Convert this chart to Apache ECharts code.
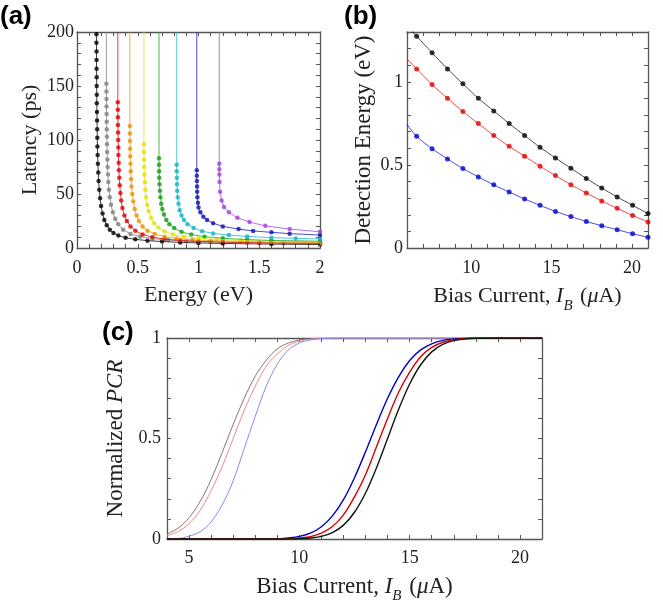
<!DOCTYPE html>
<html>
<head>
<meta charset="utf-8">
<script src="https://cdn.jsdelivr.net/npm/echarts@6/dist/echarts.min.js"></script>
<style>
html, body { margin: 0; padding: 0; background: #fff; }
#main { width: 663px; height: 610px; }
</style>
</head>
<body>
<div id="main"></div>
<script>
// ---------- (a) latency vs energy ----------
var aColors = ['#000000', '#808080', '#e00000', '#e89400', '#e2e200', '#12a012', '#10b4c8', '#1010b4', '#a040e0'];
var aAsym = [0.160, 0.242, 0.336, 0.435, 0.551, 0.675, 0.821, 0.986, 1.171];
var aBlack = [[0.160,198],[0.160,190],[0.161,182],[0.161,174],[0.161,166],[0.162,158],[0.162,150],[0.163,142],[0.163,134],[0.164,126],[0.165,118],[0.166,110],[0.167,102],[0.168,94],[0.170,86],[0.172,78],[0.175,70],[0.178,62],[0.183,54],[0.190,46],[0.198,39],[0.210,32],[0.225,26],[0.245,21],[0.27,17],[0.30,14],[0.34,11.5],[0.40,9.5],[0.48,8],[0.58,6.8],[0.70,6],[0.85,5.2],[1.0,4.7],[1.2,4.2],[1.6,3.6],[2.0,3.2]];
var aGray = [[0.242,152],[0.242,145],[0.243,138],[0.243,131],[0.244,124],[0.244,117],[0.245,110],[0.246,103],[0.247,96],[0.248,89],[0.250,82],[0.252,75],[0.255,68],[0.258,61],[0.263,54],[0.270,47],[0.28,40],[0.295,33],[0.315,27],[0.34,22],[0.38,17],[0.44,13],[0.52,10.5],[0.62,8.7],[0.75,7.3],[0.9,6.3],[1.1,5.5],[1.4,4.8],[1.7,4.3],[2.0,4.0]];
var aRed = [[0.336,135],[0.336,128],[0.337,121],[0.337,114],[0.338,107],[0.339,100],[0.340,93],[0.341,86],[0.343,79],[0.345,72],[0.348,65],[0.352,58],[0.357,51],[0.364,44],[0.374,37],[0.39,30],[0.41,25],[0.44,20],[0.48,16],[0.54,12.5],[0.62,10],[0.72,8.3],[0.85,7],[1.0,6.2],[1.2,5.5],[1.5,4.9],[2.0,4.4]];
var aOrange = [[0.435,113],[0.435,106],[0.436,99],[0.437,92],[0.438,85],[0.440,78],[0.442,71],[0.445,64],[0.449,57],[0.455,50],[0.463,43],[0.475,36],[0.49,30],[0.51,25],[0.54,20],[0.58,16],[0.64,13],[0.72,10.5],[0.82,8.8],[0.95,7.6],[1.1,6.8],[1.35,6],[1.6,5.5],[2.0,5.0]];
var aYellow = [[0.551,96],[0.551,89],[0.552,82],[0.553,75],[0.555,68],[0.558,61],[0.562,54],[0.568,47],[0.577,40],[0.59,34],[0.61,28],[0.635,23],[0.67,19],[0.72,15.5],[0.79,12.5],[0.88,10.5],[1.0,9],[1.15,7.8],[1.35,7],[1.6,6.3],[2.0,5.7]];
var aGreen = [[0.675,83],[0.675,77],[0.676,71],[0.677,65],[0.679,59],[0.682,53],[0.687,47],[0.693,41],[0.702,36],[0.715,31],[0.735,26],[0.76,22],[0.8,18.5],[0.86,15],[0.94,12.5],[1.05,10.5],[1.2,9],[1.4,7.8],[1.6,7],[2.0,6.3]];
var aCyan = [[0.821,77],[0.821,71],[0.822,65],[0.823,59],[0.825,53],[0.829,47],[0.835,41],[0.845,35],[0.86,30],[0.88,26],[0.91,22],[0.96,18.5],[1.03,15.5],[1.12,13.5],[1.25,12],[1.4,10.7],[1.6,9.6],[1.8,8.9],[2.0,8.4]];
var aBlue = [[0.986,72],[0.986,67],[0.987,62],[0.988,57],[0.989,52],[0.991,47],[0.995,42],[1.0,37.5],[1.015,33],[1.04,29],[1.07,26],[1.12,23],[1.2,20],[1.33,17.5],[1.45,15.8],[1.6,14.5],[1.75,13.3],[2.0,12]];
var aPurple = [[1.171,78],[1.171,73],[1.172,68],[1.173,61],[1.178,52],[1.19,44],[1.21,38],[1.25,33],[1.32,28],[1.42,24],[1.55,20.5],[1.75,17.5],[2.0,15]];
var aCurves = [aBlack, aGray, aRed, aOrange, aYellow, aGreen, aCyan, aBlue, aPurple];
var aXLabels = [0, 0.5, 1, 1.5, 2];
var aXTicks = [0,0.1,0.2,0.3,0.4,0.5,0.6,0.7,0.8,0.9,1,1.1,1.2,1.3,1.4,1.5,1.6,1.7,1.8,1.9,2];
var aYLabels = [0, 50, 100, 150, 200];
var aYTicks = [0,10,20,30,40,50,60,70,80,90,100,110,120,130,140,150,160,170,180,190,200];

// ---------- (b) detection energy vs bias current ----------
var bX = [6.6, 7.56, 8.52, 9.48, 10.44, 11.4, 12.36, 13.32, 14.28, 15.24, 16.2, 17.16, 18.12, 19.08, 20.04, 21.0];
var bBlack = [1.275, 1.175, 1.078, 0.988, 0.901, 0.825, 0.749, 0.677, 0.606, 0.542, 0.480, 0.419, 0.361, 0.307, 0.257, 0.207];
var bRed = [1.078, 0.984, 0.901, 0.821, 0.749, 0.677, 0.612, 0.552, 0.492, 0.436, 0.381, 0.331, 0.283, 0.239, 0.196, 0.157];
var bBlue = [0.672, 0.598, 0.536, 0.478, 0.428, 0.380, 0.337, 0.295, 0.257, 0.220, 0.189, 0.160, 0.134, 0.110, 0.086, 0.064];
var bEdge = [1.34, 1.138, 0.743];   // fit curves at the left edge (6 uA)
var bColors = ['#000000', '#e00000', '#0000d0'];
var bXLabels = [10, 15, 20];
var bXTicks = [6,7,8,9,10,11,12,13,14,15,16,17,18,19,20,21];
var bYLabels = [0, 0.5, 1];
var bYTicks = [0,0.1,0.2,0.3,0.4,0.5,0.6,0.7,0.8,0.9,1,1.1,1.2,1.3];

// ---------- (c) normalized PCR vs bias current ----------
var cLx = [4, 4.5, 5, 5.5, 6, 6.5, 7, 7.5, 8, 8.5, 9, 9.5, 10, 10.5, 11, 12, 13, 21];
var cLGray = [0.025, 0.054, 0.106, 0.186, 0.296, 0.43, 0.57, 0.70, 0.81, 0.89, 0.946, 0.975, 0.99, 0.996, 0.999, 1, 1, 1];
var cLRed = [0.016, 0.037, 0.076, 0.142, 0.24, 0.36, 0.5, 0.64, 0.76, 0.86, 0.92, 0.963, 0.984, 0.994, 0.998, 1, 1, 1];
var cLBlue = [0, 0.002, 0.014, 0.036, 0.085, 0.17, 0.29, 0.45, 0.61, 0.76, 0.87, 0.94, 0.975, 0.99, 0.997, 1, 1, 1];
var cRx = [4, 9, 9.5, 10, 10.5, 11, 11.5, 12, 12.5, 13, 13.5, 14, 14.5, 15, 15.5, 16, 16.5, 17, 17.5, 18, 19, 21];
var cRBlue = [0, 0, 0.005, 0.013, 0.029, 0.061, 0.115, 0.196, 0.305, 0.434, 0.571, 0.70, 0.807, 0.888, 0.941, 0.971, 0.988, 0.995, 0.998, 1, 1, 1];
var cRRed = [0, 0, 0.001, 0.005, 0.012, 0.029, 0.062, 0.12, 0.21, 0.32, 0.46, 0.60, 0.73, 0.83, 0.907, 0.953, 0.979, 0.992, 0.997, 0.999, 1, 1];
var cRBlack = [0, 0, 0, 0.001, 0.005, 0.013, 0.032, 0.069, 0.133, 0.229, 0.355, 0.5, 0.645, 0.771, 0.867, 0.931, 0.968, 0.987, 0.995, 0.998, 1, 1];
var cXLabels = [5, 10, 15, 20];
var cXTicks = [4,5,6,7,8,9,10,11,12,13,14,15,16,17,18,19,20,21];
var cYLabels = [0, 0.5, 1];
var cYTicks = [0,0.1,0.2,0.3,0.4,0.5,0.6,0.7,0.8,0.9,1];

var serif = 'Liberation Serif';
var frame = '#555';

function zip(xs, ys) {
	var out = [];
	for (var i = 0; i < xs.length; i++) out.push([xs[i], ys[i]]);
	return out;
}

var xAxes = [], yAxes = [];
// bottom+top x axes and left+right y axes for one grid, MATLAB style box
function addBox(gi, xr, yr) {
	var tick = function (vals) {
		return { show: true, inside: true, length: 4, customValues: vals, lineStyle: { color: frame, width: 1 } };
	};
	var line = { show: true, onZero: false, lineStyle: { color: frame, width: 1.3 } };
	xAxes.push({
		gridIndex: gi, type: 'value', position: 'bottom', min: xr.min, max: xr.max,
		axisLine: line, axisTick: tick(xr.ticks), splitLine: { show: false },
		axisLabel: { customValues: xr.labels, margin: xr.margin, fontFamily: serif, fontSize: 18, color: '#222' },
		name: xr.name, nameLocation: 'middle', nameGap: xr.gap,
		nameTextStyle: { fontFamily: serif, fontSize: xr.size || 22, color: '#222', rich: xr.rich }
	});
	xAxes.push({
		gridIndex: gi, type: 'value', position: 'top', min: xr.min, max: xr.max,
		axisLine: line, axisTick: tick(xr.ticks), splitLine: { show: false }, axisLabel: { show: false }
	});
	yAxes.push({
		gridIndex: gi, type: 'value', position: 'left', min: yr.min, max: yr.max,
		axisLine: line, axisTick: tick(yr.ticks), splitLine: { show: false },
		axisLabel: { customValues: yr.labels, margin: yr.margin, fontFamily: serif, fontSize: 18, color: '#222' },
		name: yr.name, nameLocation: 'middle', nameGap: yr.gap,
		nameTextStyle: { fontFamily: serif, fontSize: yr.size || 22, color: '#222', rich: yr.rich }
	});
	yAxes.push({
		gridIndex: gi, type: 'value', position: 'right', min: yr.min, max: yr.max,
		axisLine: line, axisTick: tick(yr.ticks), splitLine: { show: false }, axisLabel: { show: false }
	});
}

function biasRich(fs) {
	return {
		n: { fontFamily: serif, fontSize: fs, color: '#222' },
		i: { fontFamily: serif, fontSize: fs, fontStyle: 'italic', color: '#222' },
		s: { fontFamily: serif, fontSize: 15, fontStyle: 'italic', color: '#222', verticalAlign: 'top', padding: [20, 2, 0, 0] },
		m: { fontFamily: serif, fontSize: fs, fontStyle: 'italic', color: '#222' }
	};
}
var biasName = '{n|Bias Current, }{i|I}{s|B}{n| (}{m|μ}{n|A)}';

addBox(0, { min: 0, max: 2, labels: aXLabels, ticks: aXTicks, margin: 11, name: 'Energy (eV)', gap: 36 },
	{ min: 0, max: 200, labels: aYLabels, ticks: aYTicks, margin: 3, name: 'Latency (ps)', gap: 36 });
addBox(1, { min: 6, max: 21, labels: bXLabels, ticks: bXTicks, margin: 11, name: biasName, gap: 31, rich: biasRich(22) },
	{ min: 0, max: 1.3, labels: bYLabels, ticks: bYTicks, margin: 4, name: 'Detection Energy (eV)', gap: 32, size: 23 });
addBox(2, { min: 4, max: 21, labels: cXLabels, ticks: cXTicks, margin: 10, name: biasName, gap: 30, rich: biasRich(23) },
	{ min: 0, max: 1, labels: cYLabels, ticks: cYTicks, margin: 6, name: '{n|Normalized }{i|PCR}', gap: 38,
	  rich: { n: { fontFamily: serif, fontSize: 23, color: '#222' }, i: { fontFamily: serif, fontSize: 23, fontStyle: 'italic', color: '#222' } } });

var series = [];
// panel (a): vertical fit line from the top + measured dots
for (var k = 0; k < aCurves.length; k++) {
	series.push({
		type: 'line', xAxisIndex: 0, yAxisIndex: 0, showSymbol: false, silent: true,
		data: [[aAsym[k], 200]].concat(aCurves[k]),
		lineStyle: { color: aColors[k], width: 1, opacity: 0.75 }
	});
	series.push({
		type: 'scatter', xAxisIndex: 0, yAxisIndex: 0, symbolSize: 4.5, silent: true,
		data: aCurves[k], itemStyle: { color: aColors[k] }
	});
}
// panel (b)
var bSets = [bBlack, bRed, bBlue];
for (var j = 0; j < bSets.length; j++) {
	var pts = zip(bX, bSets[j]);
	series.push({
		type: 'line', xAxisIndex: 2, yAxisIndex: 2, showSymbol: false, smooth: 0.3, silent: true,
		data: [[6, bEdge[j]]].concat(pts),
		lineStyle: { color: bColors[j], width: 1, opacity: 0.7 }
	});
	series.push({
		type: 'scatter', xAxisIndex: 2, yAxisIndex: 2, symbolSize: 5, silent: true,
		data: pts, itemStyle: { color: bColors[j] }
	});
}
// panel (c)
var cSets = [
	[cLx, cLGray, '#857575', 1], [cLx, cLRed, '#f08888', 1], [cLx, cLBlue, '#8888f0', 1],
	[cRx, cRBlue, '#0000c8', 1.4], [cRx, cRRed, '#d80000', 1.4], [cRx, cRBlack, '#0a1a0a', 1.4]
];
cSets.forEach(function (c) {
	series.push({
		type: 'line', xAxisIndex: 4, yAxisIndex: 4, showSymbol: false, smooth: 0.35, silent: true,
		data: zip(c[0], c[1]), lineStyle: { color: c[2], width: c[3] }
	});
});

var myChart = echarts.init(document.getElementById('main'), null, { renderer: 'canvas' });
myChart.setOption({
	animation: false,
	backgroundColor: '#fff',
	grid: [
		{ left: 77, top: 32, width: 243, height: 216 },
		{ left: 407, top: 32, width: 241, height: 216 },
		{ left: 167, top: 338, width: 375, height: 201 }
	],
	xAxis: xAxes,
	yAxis: yAxes,
	series: series,
	graphic: [
		{ type: 'text', left: 0, top: 4, style: { text: '(a)', font: 'bold 26px "Liberation Sans"', fill: '#000' } },
		{ type: 'text', left: 344, top: 4, style: { text: '(b)', font: 'bold 26px "Liberation Sans"', fill: '#000' } },
		{ type: 'text', left: 102, top: 320, style: { text: '(c)', font: 'bold 26px "Liberation Sans"', fill: '#000' } }
	]
});
</script>
</body>
</html>
